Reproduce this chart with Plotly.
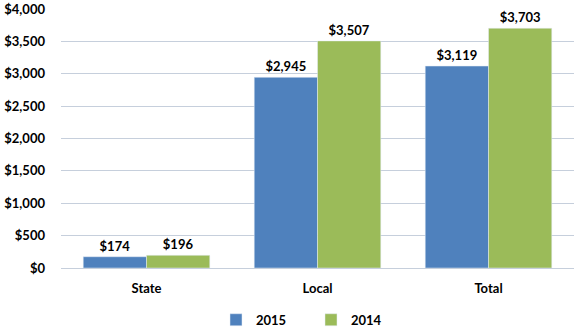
import plotly.graph_objects as go

categories = ["State", "Local", "Total"]
values_2015 = [174, 2945, 3119]
values_2014 = [196, 3507, 3703]
tick_vals = [0, 500, 1000, 1500, 2000, 2500, 3000, 3500, 4000]
tick_text = ["$0", "$500", "$1,000", "$1,500", "$2,000", "$2,500", "$3,000", "$3,500", "$4,000"]

FONT = "Lato"
fig = go.Figure()
fig.add_trace(go.Bar(
    x=categories, y=values_2015, name="2015", marker_color="#4F81BD",
    text=[f"${v:,}" for v in values_2015], textposition="outside",
    textfont=dict(family=FONT, size=13, color="black"), cliponaxis=False,
))
fig.add_trace(go.Bar(
    x=categories, y=values_2014, name="2014", marker_color="#9BBB59",
    text=[f"${v:,}" for v in values_2014], textposition="outside",
    textfont=dict(family=FONT, size=13, color="black"), cliponaxis=False,
))
fig.update_layout(
    width=579, height=328,
    margin=dict(l=61, r=5, t=9, b=60, autoexpand=False),
    barmode="group", bargap=0.26, bargroupgap=0,
    plot_bgcolor="white", paper_bgcolor="white",
    font=dict(family=FONT, size=13, color="black", weight="bold"),
    showlegend=True,
    legend=dict(orientation="h", x=(216 - 61) / 513, xanchor="left", yref="container",
                y=0.025, yanchor="middle",
                font=dict(family=FONT, size=13, weight="bold"), itemwidth=30,
                entrywidth=50, entrywidthmode="pixels",
                tracegroupgap=0),
    uniformtext=dict(minsize=13, mode="show"),
)
fig.update_yaxes(range=[0, 4000], tickvals=tick_vals, ticktext=tick_text,
                 showgrid=True, gridcolor="#C6CFDC", gridwidth=1,
                 zeroline=True, zerolinecolor="#C6CFDC", zerolinewidth=1,
                 ticks="", ticklabelstandoff=15, automargin=False,
                 tickfont=dict(family=FONT, size=13, weight="bold"))
fig.update_xaxes(showline=False, ticks="", tickfont=dict(family=FONT, size=13, weight="bold"),
                 ticklabelstandoff=11, automargin=False)
fig.write_html("out.html")
